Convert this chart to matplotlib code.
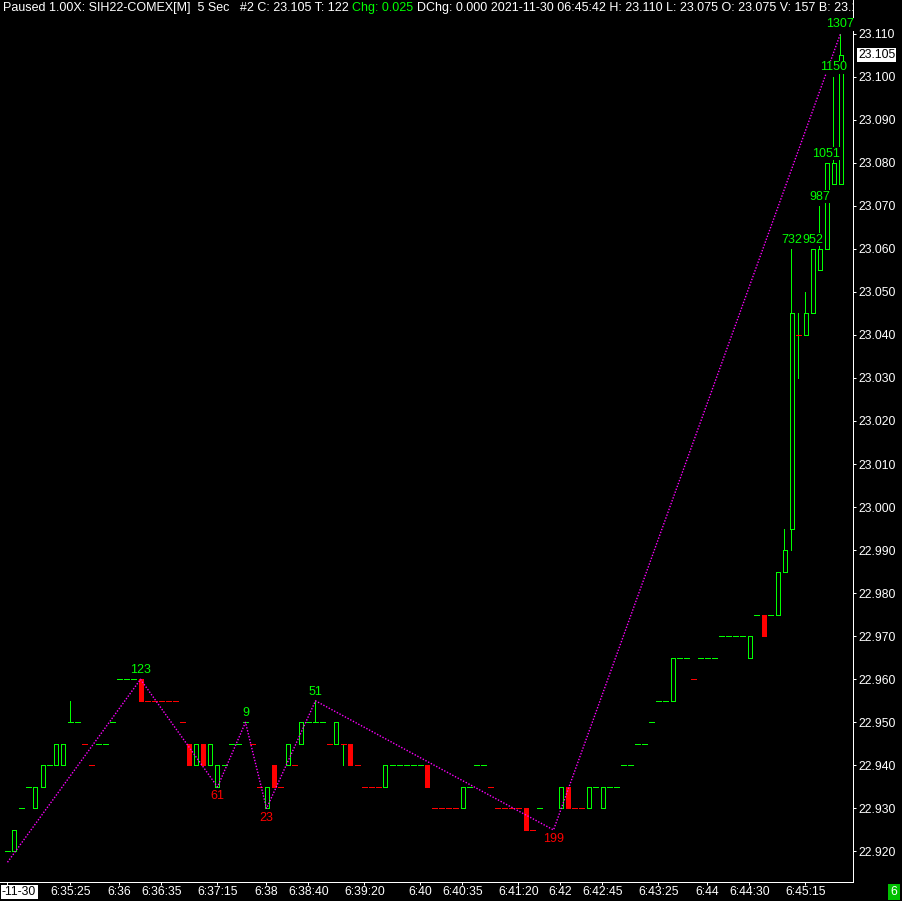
import matplotlib
matplotlib.use("Agg")
import matplotlib.pyplot as plt
import numpy as np

plt.rcParams['font.family'] = ['Liberation Sans', 'DejaVu Sans']

# 5 sec bars, nan = no bar drawn
opens = [22.920, 22.920, 22.930, 22.935, 22.930, 22.935, 22.940, 22.940, 22.940, 22.950,
         22.950, 22.945, 22.940, 22.945, 22.945, 22.950, 22.960, 22.960, 22.960, 22.960,
         22.955, 22.955, 22.955, 22.955, 22.955, 22.950, 22.945, 22.940, 22.945, 22.940,
         22.935, 22.940, 22.945, 22.945, 22.950, 22.945, 22.935, 22.930, 22.940, 22.935,
         22.940, 22.940, 22.945, 22.950, 22.950, 22.950, 22.945, 22.945, 22.945, 22.945,
         22.940, 22.935, 22.935, 22.935, 22.935, 22.940, 22.940, 22.940, 22.940, 22.940,
         22.940, 22.930, 22.930, 22.930, 22.930, 22.930, 22.935, 22.940, 22.940, 22.935,
         22.930, 22.930, 22.930, 22.930, 22.930, 22.925, 22.930, np.nan, np.nan, 22.930,
         22.935, 22.930, 22.930, 22.930, 22.935, 22.930, 22.935, 22.935, 22.940, 22.940,
         22.945, 22.945, 22.950, 22.955, 22.955, 22.955, 22.965, 22.965, 22.960, 22.965,
         22.965, 22.965, 22.970, 22.970, 22.970, 22.970, 22.965, 22.975, 22.975, 22.975,
         22.975, 22.985, 22.995, 23.040, 23.040, 23.045, 23.055, 23.060, 23.075, 23.075]
closes = [22.920, 22.925, 22.930, 22.935, 22.935, 22.940, 22.940, 22.945, 22.945, 22.950,
          22.950, 22.945, 22.940, 22.945, 22.945, 22.950, 22.960, 22.960, 22.960, 22.955,
          22.955, 22.955, 22.955, 22.955, 22.955, 22.950, 22.940, 22.945, 22.940, 22.945,
          22.940, 22.940, 22.945, 22.945, 22.950, 22.945, 22.935, 22.935, 22.935, 22.935,
          22.945, 22.940, 22.950, 22.950, 22.950, 22.950, 22.945, 22.950, 22.945, 22.940,
          22.940, 22.935, 22.935, 22.935, 22.940, 22.940, 22.940, 22.940, 22.940, 22.940,
          22.935, 22.930, 22.930, 22.930, 22.930, 22.935, 22.935, 22.940, 22.940, 22.935,
          22.930, 22.930, 22.930, 22.930, 22.925, 22.925, 22.930, np.nan, np.nan, 22.935,
          22.930, 22.930, 22.930, 22.935, 22.935, 22.935, 22.935, 22.935, 22.940, 22.940,
          22.945, 22.945, 22.950, 22.955, 22.955, 22.965, 22.965, 22.965, 22.960, 22.965,
          22.965, 22.965, 22.970, 22.970, 22.970, 22.970, 22.970, 22.975, 22.970, 22.975,
          22.985, 22.990, 23.045, 23.040, 23.045, 23.060, 23.060, 23.080, 23.080, 23.105]
high_wicks = {9: 22.955, 44: 22.955, 111: 22.995, 112: 23.060, 113: 23.045,
              114: 23.050, 116: 23.070, 118: 23.100, 119: 23.110}
low_wicks = {48: 22.940, 112: 22.990, 113: 23.030}

# swing line and its labels
zz_idx = [0, 19, 30, 34, 37, 44, 78, 119]
zz_px = [22.9175, 22.960, 22.935, 22.950, 22.930, 22.955, 22.925, 23.110]
hi_labels = [(19, 22.960, '123'), (34, 22.950, '9'), (44, 22.955, '51'),
             (112, 23.060, '732'), (115, 23.060, '952'), (116, 23.070, '987'),
             (117, 23.080, '1051'), (118, 23.100, '1150'), (119, 23.110, '1307')]
lo_labels = [(30, 22.935, '61'), (37, 22.930, '23'), (78, 22.925, '199')]

time_idx = [9, 16, 22, 30, 37, 43, 51, 59, 65, 73, 79, 85, 93, 100, 106, 114]
time_lbl = ['6:35:25', '6:36', '6:36:35', '6:37:15', '6:38', '6:38:40', '6:39:20', '6:40',
            '6:40:35', '6:41:20', '6:42', '6:42:45', '6:43:25', '6:44', '6:44:30', '6:45:15']
price_ticks = np.round(np.arange(22.920, 23.1101, 0.010), 3)
last_price = 23.105

GREEN = '#00ff00'
RED = '#ff0000'
PX = 0.72  # one pixel in points

fig = plt.figure(figsize=(9.02, 9.01), dpi=100, facecolor='black')
ax = fig.add_axes([0, 19 / 901, 853 / 902, 882 / 901])
ax.set_facecolor('black')

step = 7.0
ax.set_xlim(-7.5 / step, -7.5 / step + 853 / step)
ppu = 818 / 0.19
ymax = 23.110 + 33.5 / ppu
ax.set_ylim(ymax - 882 / ppu, ymax)

o = np.array(opens, dtype=float)
c = np.array(closes, dtype=float)
n = len(o)
x = np.arange(n)
h = np.fmax(o, c)
l = np.fmin(o, c)
for k, v in high_wicks.items():
    h[k] = v
for k, v in low_wicks.items():
    l[k] = v

# wicks
top = np.fmax(o, c)
bot = np.fmin(o, c)
m = h > top + 1e-9
ax.vlines(x[m], top[m], h[m], colors=GREEN, lw=PX, antialiased=False, zorder=2)
m = l < bot - 1e-9
ax.vlines(x[m], l[m], bot[m], colors=GREEN, lw=PX, antialiased=False, zorder=2)

# bodies and flat bars
up = True
prev = np.nan
bw = 4 / step
for i in range(n):
    if np.isnan(c[i]):
        continue
    if c[i] > o[i] + 1e-9:
        up = True
        ax.bar(i, c[i] - o[i], bottom=o[i], width=bw, facecolor='none', edgecolor=GREEN,
               lw=PX, antialiased=False, zorder=3)
    elif c[i] < o[i] - 1e-9:
        up = False
        ax.bar(i, o[i] - c[i], bottom=c[i], width=bw, facecolor=RED, edgecolor=RED,
               lw=PX, antialiased=False, zorder=3)
    else:
        if not np.isnan(prev):
            if c[i] > prev + 1e-9:
                up = True
            elif c[i] < prev - 1e-9:
                up = False
        ax.hlines(c[i], i - 2.5 / step, i + 2.5 / step, colors=GREEN if up else RED,
                  lw=PX, antialiased=False, zorder=3)
    prev = c[i]

# swing line
ax.plot(zz_idx, zz_px, color='#ff00ff', lw=1.0, linestyle=(0, (1, 1.2)), zorder=4)

for i, p, t in hi_labels:
    ax.annotate(t, (i, p), xytext=(0, 2.2), textcoords='offset points', ha='center',
                va='bottom', color=GREEN, fontsize=9, zorder=6,
                bbox=dict(facecolor='black', edgecolor='none', pad=0.2))
for i, p, t in lo_labels:
    ax.annotate(t, (i, p), xytext=(0, -2.2), textcoords='offset points', ha='center',
                va='top', color=RED, fontsize=9, zorder=6,
                bbox=dict(facecolor='black', edgecolor='none', pad=0.2))

# axes
for s in ['top', 'left']:
    ax.spines[s].set_visible(False)
for s in ['right', 'bottom']:
    ax.spines[s].set_color('white')
    ax.spines[s].set_linewidth(PX)
ax.yaxis.tick_right()
ax.set_yticks(price_ticks)
ax.set_yticklabels(['%.3f' % v for v in price_ticks])
ax.tick_params(axis='y', colors='white', length=3 * PX, width=PX, pad=2 * PX, labelsize=8.8)
ax.set_xticks([0] + time_idx)
ax.set_xticklabels([''] + time_lbl)
ax.tick_params(axis='x', colors='white', length=3 * PX, width=PX, pad=1 * PX, labelsize=8.8)

ax.annotate('%.3f' % last_price, (1, last_price), xycoords=('axes fraction', 'data'),
            xytext=(5 * PX, 0), textcoords='offset points', ha='left', va='center',
            color='black', fontsize=8.8, annotation_clip=False,
            bbox=dict(facecolor='white', edgecolor='none', pad=0.8))

# header line, pieces chained one after another
yb = 1 - 14 / 882
hdr = ax.text(3 / 853, yb, 'Paused 1.00X: SIH22-COMEX[M]  5 Sec   #2 C: 23.105 T: 122',
              transform=ax.transAxes, color='white', fontsize=9.0, va='bottom', clip_on=True)
chg = ax.annotate('Chg: 0.025', xy=(1, 0), xycoords=hdr, xytext=(2.6, 0),
                  textcoords='offset points', va='bottom', color=GREEN, fontsize=9.0,
                  clip_on=True)
ax.annotate('DChg: 0.000 2021-11-30 06:45:42 H: 23.110 L: 23.075 O: 23.075 V: 157 B: 23.100',
            xy=(1, 0), xycoords=chg, xytext=(2.6, 0), textcoords='offset points',
            va='bottom', color='white', fontsize=9.0, clip_on=True)

fig.text(2 / 902, 1 - 886 / 901, '-11-30', ha='left', va='top', color='black',
         fontsize=8.8, bbox=dict(facecolor='white', edgecolor='none', pad=1.0))
fig.text(894 / 902, 1 - 892 / 901, '6', ha='center', va='center', color='white',
         fontsize=8.8, bbox=dict(facecolor='#00c000', edgecolor='none', pad=1.8))

fig.savefig('out.png', dpi=100, facecolor='black')
